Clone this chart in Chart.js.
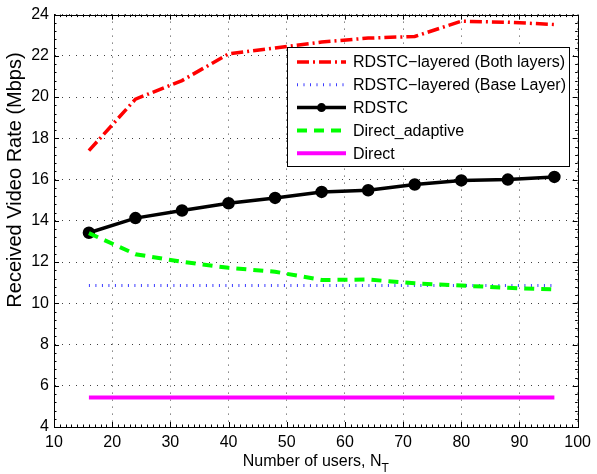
<!DOCTYPE html>
<html>
<head>
<meta charset="utf-8">
<script src="https://cdn.jsdelivr.net/npm/chart.js@4.4.1/dist/chart.umd.min.js"></script>
<style>
    html, body { margin: 0; padding: 0; background: #fff; }
    #chart { display: block; }
</style>
</head>
<body>
<canvas id="chart" width="597" height="474"></canvas>
<script>
// number of users N_T on the x axis
const users = [16, 24, 32, 40, 48, 56, 64, 72, 80, 88, 96];

// received video rate (Mbps) per scheme
const bothLayers = [17.4, 19.9, 20.8, 22.1, 22.38, 22.67, 22.86, 22.94, 23.68, 23.63, 23.52];
const baseLayer = [10.86, 10.86, 10.86, 10.86, 10.86, 10.86, 10.86, 10.86, 10.86, 10.86, 10.86];
const rdstc = [13.42, 14.13, 14.5, 14.85, 15.11, 15.4, 15.48, 15.76, 15.96, 16.0, 16.13];
const directAdaptive = [13.4, 12.38, 12.01, 11.72, 11.53, 11.13, 11.15, 10.97, 10.86, 10.75, 10.67];
const direct = [5.43, 5.43, 5.43, 5.43, 5.43, 5.43, 5.43, 5.43, 5.43, 5.43, 5.43];

const seriesNames = [
    "RDSTC\u2212layered (Both layers)",
    "RDSTC\u2212layered (Base Layer)",
    "RDSTC",
    "Direct_adaptive",
    "Direct"
];

const xTicks = [10, 20, 30, 40, 50, 60, 70, 80, 90, 100];
const yTicks = [4, 6, 8, 10, 12, 14, 16, 18, 20, 22, 24];

const FONT = "'Liberation Sans', Arial, Helvetica, sans-serif";

function toPoints(values) {
    return users.map((u, i) => ({ x: u, y: values[i] }));
}

const datasets = [
    { label: seriesNames[0], data: toPoints(bothLayers), borderColor: "#ff0000", borderWidth: 3.5, borderDash: [12, 4, 2, 4], order: 4 },
    { label: seriesNames[1], data: toPoints(baseLayer), borderColor: "#3b3bff", borderWidth: 3, borderDash: [1, 5.5], order: 3 },
    { label: seriesNames[2], data: toPoints(rdstc), borderColor: "#000000", borderWidth: 3.5, borderDash: [], order: 2,
      pointRadius: 4.5, pointBackgroundColor: "#000000", pointBorderColor: "#000000" },
    { label: seriesNames[3], data: toPoints(directAdaptive), borderColor: "#00ff00", borderWidth: 4, borderDash: [10, 7], order: 1 },
    { label: seriesNames[4], data: toPoints(direct), borderColor: "#ff00ff", borderWidth: 4, borderDash: [], order: 0 }
];

datasets.forEach(ds => {
    ds.fill = false;
    ds.tension = 0;
    ds.borderCapStyle = "butt";
    if (ds.pointRadius === undefined) ds.pointRadius = 0;
    ds.pointHoverRadius = ds.pointRadius;
});

// box, inward ticks
const framePlugin = {
    id: "frame",
    afterDatasetsDraw(chart) {
        const { ctx, chartArea: a, scales: { x, y } } = chart;
        ctx.save();
        ctx.strokeStyle = "#000";
        ctx.lineWidth = 1;
        ctx.beginPath();
        for (let v = xTicks[0]; v <= xTicks[xTicks.length - 1]; v += 1) {
            const px = Math.round(x.getPixelForValue(v)) + 0.5;
            const len = v % 10 === 0 ? 5 : 2.5;
            ctx.moveTo(px, a.bottom); ctx.lineTo(px, a.bottom - len);
            ctx.moveTo(px, a.top); ctx.lineTo(px, a.top + len);
        }
        for (let v = yTicks[0]; v <= yTicks[yTicks.length - 1] + 0.01; v += 0.4) {
            const py = Math.round(y.getPixelForValue(v)) + 0.5;
            const isMajor = Math.abs(v / 2 - Math.round(v / 2)) < 0.01;
            const len = isMajor ? 5 : 2.5;
            ctx.moveTo(a.left, py); ctx.lineTo(a.left + len, py);
            ctx.moveTo(a.right, py); ctx.lineTo(a.right - len, py);
        }
        ctx.stroke();
        ctx.strokeRect(Math.round(a.left) + 0.5, Math.round(a.top) + 0.5,
            Math.round(a.right - a.left), Math.round(a.bottom - a.top));
        ctx.restore();
    }
};

// legend box drawn inside the axes, like the original
const legendPlugin = {
    id: "insideLegend",
    afterDraw(chart) {
        const { ctx } = chart;
        const box = { x: 287.5, y: 47.5, w: 282, h: 119 };
        ctx.save();
        ctx.fillStyle = "#fff";
        ctx.fillRect(box.x, box.y, box.w, box.h);
        ctx.strokeStyle = "#000";
        ctx.lineWidth = 1;
        ctx.strokeRect(box.x, box.y, box.w, box.h);

        ctx.font = "16px " + FONT;
        ctx.textBaseline = "middle";
        ctx.textAlign = "left";
        chart.data.datasets.forEach((ds, i) => {
            const rowY = 62 + i * 22.8;
            ctx.beginPath();
            ctx.strokeStyle = ds.borderColor;
            ctx.lineWidth = ds.borderWidth;
            ctx.lineCap = "butt";
            ctx.setLineDash(ds.borderDash);
            ctx.moveTo(297, rowY);
            ctx.lineTo(346, rowY);
            ctx.stroke();
            ctx.setLineDash([]);
            if (ds.pointRadius > 0) {
                ctx.beginPath();
                ctx.fillStyle = ds.pointBackgroundColor;
                ctx.arc(321.5, rowY, ds.pointRadius, 0, Math.PI * 2);
                ctx.fill();
            }
            ctx.fillStyle = "#000";
            ctx.fillText(ds.label, 353, rowY + 1);
        });
        ctx.restore();
    }
};

// axis titles (x title has a subscript)
const titlePlugin = {
    id: "axisTitles",
    afterDraw(chart) {
        const { ctx, chartArea: a } = chart;
        ctx.save();
        ctx.fillStyle = "#000";
        ctx.textBaseline = "alphabetic";

        const main = "Number of users, N";
        ctx.font = "16px " + FONT;
        const mainW = ctx.measureText(main).width;
        ctx.font = "12px " + FONT;
        const subW = ctx.measureText("T").width;
        const startX = (a.left + a.right) / 2 - (mainW + subW) / 2;
        ctx.font = "16px " + FONT;
        ctx.textAlign = "left";
        ctx.fillText(main, startX, 466);
        ctx.font = "12px " + FONT;
        ctx.fillText("T", startX + mainW, 472);

        ctx.translate(21, 180);
        ctx.rotate(-Math.PI / 2);
        ctx.font = "20px " + FONT;
        ctx.textAlign = "center";
        ctx.fillText("Received Video Rate (Mbps)", 0, 0);
        ctx.restore();
    }
};

new Chart(document.getElementById("chart"), {
    type: "line",
    data: { datasets },
    options: {
        responsive: false,
        animation: false,
        devicePixelRatio: 1,
        layout: { padding: { top: 11, right: 15, left: 0, bottom: 0 } },
        plugins: {
            legend: { display: false },
            tooltip: { enabled: false },
            title: { display: false }
        },
        font: { family: FONT, size: 16 },
        scales: {
            x: {
                type: "linear",
                min: xTicks[0],
                max: xTicks[xTicks.length - 1],
                afterBuildTicks: s => { s.ticks = xTicks.map(v => ({ value: v })); },
                afterFit: s => { s.height = 47; },
                ticks: { color: "#000", font: { family: FONT, size: 16 }, padding: 6, maxRotation: 0, autoSkip: false },
                grid: { color: "rgba(0,0,0,0.75)", lineWidth: 1, drawTicks: false },
                border: { display: true, color: "#000", width: 1, dash: [1, 6] }
            },
            y: {
                type: "linear",
                min: yTicks[0],
                max: yTicks[yTicks.length - 1],
                afterBuildTicks: s => { s.ticks = yTicks.map(v => ({ value: v })); },
                afterFit: s => { s.width = 54; },
                ticks: { color: "#000", font: { family: FONT, size: 16 }, padding: 5, autoSkip: false },
                grid: { color: "rgba(0,0,0,0.75)", lineWidth: 1, drawTicks: false },
                border: { display: true, color: "#000", width: 1, dash: [1, 6] }
            }
        }
    },
    plugins: [framePlugin, legendPlugin, titlePlugin]
});
</script>
</body>
</html>
